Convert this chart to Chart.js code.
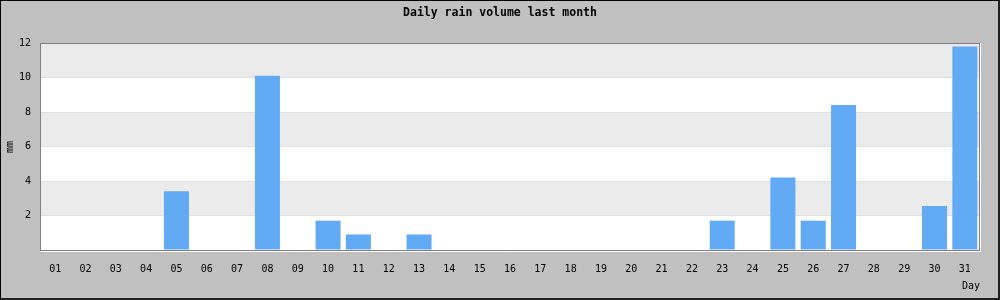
<!DOCTYPE html>
<html>
<head>
<meta charset="utf-8">
<script src="https://cdn.jsdelivr.net/npm/chart.js@4"></script>
<style>
html,body{margin:0;padding:0;background:#c0c0c0;}
#wrap{position:relative;width:1000px;height:300px;}
canvas{display:block;}
</style>
</head>
<body>
<div id="wrap"><canvas id="c" width="1000" height="300"></canvas></div>
<script>
const days = ["01","02","03","04","05","06","07","08","09","10","11","12","13","14","15","16","17","18","19","20","21","22","23","24","25","26","27","28","29","30","31"];
const rain = [0,0,0,0,3.4,0,0,10.1,0,1.7,0.9,0,0.9,0,0,0,0,0,0,0,0,0,1.7,0,4.2,1.7,8.4,0,0,2.55,11.8];
const yTicks = [2,4,6,8,10,12];
const titleText = "Daily rain volume last month";
const yTitle = "mm";
const xTitle = "Day";

const FONT = "'DejaVu Sans Mono', 'Liberation Mono', monospace";

const decor = {
  id: 'decor',
  beforeDraw(chart) {
    const ctx = chart.ctx;
    const a = chart.chartArea;
    const y = chart.scales.y;
    ctx.save();
    ctx.fillStyle = '#c0c0c0';
    ctx.fillRect(0, 0, chart.width, chart.height);
    // alternating bands
    for (let v = 0; v < 12; v += 2) {
      const top = y.getPixelForValue(v + 2);
      const bot = y.getPixelForValue(v);
      ctx.fillStyle = ((v / 2) % 2 === 1) ? '#ebebeb' : '#ffffff';
      ctx.fillRect(a.left, top, a.right - a.left, bot - top);
    }
    ctx.restore();
  },
  afterDraw(chart) {
    const ctx = chart.ctx;
    const a = chart.chartArea;
    ctx.save();
    // plot frame
    ctx.strokeStyle = '#808080';
    ctx.lineWidth = 1;
    ctx.strokeRect(a.left + 0.5, a.top + 0.5, a.right - a.left - 1, a.bottom - a.top);
    ctx.strokeStyle = '#ffffff';
    ctx.beginPath();
    ctx.moveTo(a.right + 0.5, a.top);
    ctx.lineTo(a.right + 0.5, a.bottom + 1.5);
    ctx.lineTo(a.left, a.bottom + 1.5);
    ctx.stroke();
    // outer border
    ctx.strokeStyle = '#000000';
    ctx.strokeRect(0.5, 0.5, chart.width - 1, chart.height - 1);
    ctx.fillStyle = '#202020';
    ctx.fillRect(chart.width - 2, 0, 2, chart.height);
    ctx.fillRect(0, chart.height - 2, chart.width, 2);
    // texts
    ctx.fillStyle = '#000000';
    ctx.font = "bold 11.5px " + FONT;
    ctx.textAlign = 'center';
    ctx.textBaseline = 'middle';
    ctx.fillText(titleText, 500, 13);
    ctx.font = "10px " + FONT;
    ctx.textAlign = 'right';
    ctx.fillText(xTitle, 980, 286);
    ctx.translate(10, 147);
    ctx.rotate(-Math.PI / 2);
    ctx.textAlign = 'center';
    ctx.fillText(yTitle, 0, 0);
    ctx.restore();
  }
};

new Chart(document.getElementById('c'), {
  type: 'bar',
  data: {
    labels: days,
    datasets: [{
      data: rain,
      backgroundColor: '#62aaf4',
      borderWidth: 0,
      barPercentage: 0.825,
      categoryPercentage: 1.0
    }]
  },
  options: {
    responsive: false,
    animation: false,
    devicePixelRatio: 1,
    layout: { padding: { top: 43, right: 20, left: 0, bottom: 0 } },
    plugins: { legend: { display: false }, title: { display: false }, tooltip: { enabled: false } },
    scales: {
      x: {
        grid: { display: false, drawTicks: false },
        border: { display: false },
        ticks: { color: '#000', font: { family: FONT, size: 10 }, padding: 13, maxRotation: 0, autoSkip: false },
        afterFit(s) { s.height = 50; }
      },
      y: {
        min: 0, max: 12,
        afterBuildTicks(s) { s.ticks = [0].concat(yTicks).map(v => ({ value: v })); },
        grid: { color: '#e0e0e0', drawTicks: false, lineWidth: 1 },
        border: { display: false },
        ticks: {
          color: '#000', font: { family: FONT, size: 10 }, padding: 9,
          callback: (v) => v === 0 ? '' : String(v)
        },
        afterFit(s) { s.width = 40; }
      }
    }
  },
  plugins: [decor]
});
</script>
</body>
</html>
